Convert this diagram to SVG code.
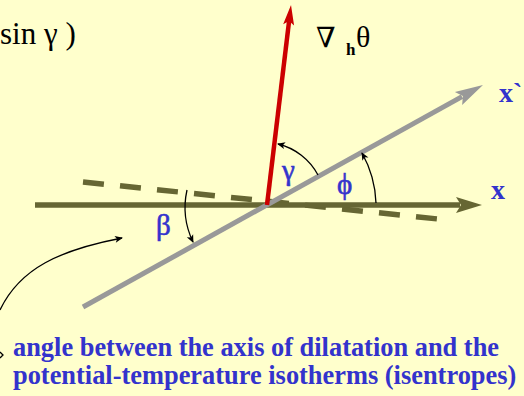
<svg xmlns="http://www.w3.org/2000/svg" width="524" height="396" viewBox="0 0 524 396">
  <style>
    .lbl{fill:#3333CC;font-family:"Liberation Serif","DejaVu Serif",serif;font-weight:bold}
    .greek{fill:#3333CC;font-family:"Liberation Serif","DejaVu Serif",serif;stroke:#3333CC;stroke-width:0.6}
    .blk{fill:#000;font-family:"Liberation Serif","DejaVu Serif",serif}
    .thin{fill:none;stroke:#000;stroke-width:1.3}
  </style>
  <defs>
    <marker id="ahRed" markerUnits="userSpaceOnUse" orient="auto" refX="0" refY="0" markerWidth="40" markerHeight="40" overflow="visible">
      <path d="M-4,-5.5 L16,0 L-4,5.5 L0,0 Z" fill="#CC0000"/>
    </marker>
    <marker id="ahGray" markerUnits="userSpaceOnUse" orient="auto" refX="0" refY="0" markerWidth="40" markerHeight="40" overflow="visible">
      <path d="M-4,-7.5 L24,0 L-4,7.5 L1,0 Z" fill="#999999"/>
    </marker>
    <marker id="ahOlive" markerUnits="userSpaceOnUse" orient="auto" refX="0" refY="0" markerWidth="40" markerHeight="40" overflow="visible">
      <path d="M-4,-8 L22,0 L-4,8 L1,0 Z" fill="#666633"/>
    </marker>
    <marker id="ahBlk" markerUnits="userSpaceOnUse" orient="auto" refX="0" refY="0" markerWidth="20" markerHeight="20" overflow="visible">
      <path d="M-7,-3.5 L1,0 L-7,3.5 L-5,0 Z" fill="#000"/>
    </marker>
  </defs>
  <rect width="524" height="396" fill="#FFFFCC"/>

  <g id="connectors">
    <line id="dashed-isentrope" x1="83" y1="182" x2="438" y2="219" stroke="#666633" stroke-width="5.5" stroke-dasharray="21 16.2"/>
    <line id="x-axis" x1="35" y1="205" x2="460" y2="205" stroke="#666633" stroke-width="5.5" marker-end="url(#ahOlive)"/>
    <line id="x-prime-axis" x1="83" y1="307" x2="462" y2="96.6" stroke="#999999" stroke-width="5" marker-end="url(#ahGray)"/>
    <line id="grad-theta" x1="267" y1="205" x2="289.1" y2="20.9" stroke="#CC0000" stroke-width="4.5" marker-end="url(#ahRed)"/>
    <path id="arc-gamma" class="thin" d="M318,175 A62,62 0 0 0 278,144" marker-end="url(#ahBlk)"/>
    <path id="arc-phi" class="thin" d="M376,203 A110,110 0 0 0 362,153" marker-end="url(#ahBlk)"/>
    <path id="arc-beta" class="thin" d="M187,190 A80,80 0 0 0 193,242" marker-end="url(#ahBlk)"/>
    <path id="pointer" class="thin" d="M0,310 C20,268 60,250 122,238" marker-end="url(#ahBlk)"/>
    <path id="pointer-tip" class="thin" d="M0,352 L3,355 L0,358"/>
  </g>

  <g id="top-formula"><text class="blk" x="0" y="44" font-size="31">sin γ )</text></g>
  <g id="grad-label">
    <text class="blk" x="316" y="47" font-size="28">∇</text>
    <text class="blk" x="346" y="55" font-size="17" font-weight="bold">h</text>
    <text class="blk" x="356" y="47" font-size="30">θ</text>
  </g>
  <g id="label-xprime"><text class="lbl" x="499" y="102" font-size="28">x`</text></g>
  <g id="label-x"><text class="lbl" x="491" y="199" font-size="28">x</text></g>
  <g id="label-gamma"><text class="greek" x="282" y="180" font-size="29">γ</text></g>
  <g id="label-phi"><text class="greek" x="337" y="194" font-size="29">ϕ</text></g>
  <g id="label-beta"><text class="greek" x="156" y="235" font-size="29">β</text></g>
  <g id="caption">
    <text class="lbl" x="13" y="356" font-size="26.4">angle between the axis of dilatation and the</text>
    <text class="lbl" x="13" y="384" font-size="26.4">potential-temperature isotherms (isentropes)</text>
  </g>
</svg>
